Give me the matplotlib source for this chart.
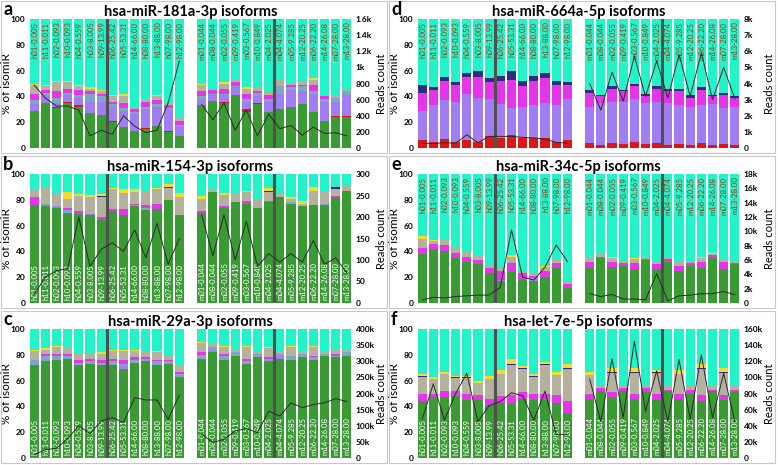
import numpy as np
import matplotlib
matplotlib.use('Agg')
from matplotlib import pyplot as plt
from matplotlib.patches import Rectangle

plt.rcParams['font.family'] = ['Lato', 'DejaVu Sans']

HUMAN = ['h01-0.005', 'h11-0.011', 'h02-0.093', 'h10-0.093', 'h04-0.559', 'h03-8.005', 'h09-13.99',
         'h06-25.42', 'h05-53.31', 'h14-66.00', 'h08-80.00', 'h13-88.00', 'h07-98.00', 'h12-98.00']
MOUSE = ['m01-0.044', 'm08-0.044', 'm02-0.055', 'm09-0.419', 'm03-0.567', 'm10-0.849', 'm04-2.025',
         'm04-4.074', 'm05-9.285', 'm12-20.25', 'm06-22.20', 'm14-26.08', 'm07-28.00', 'm13-28.00']
SAMPLES = HUMAN + MOUSE

# stacked segments, bottom to top; the rest up to 100 is the cyan part
SEG_COLORS = {'green': '#3a9a33', 'red': '#e01414', 'lav': '#a07ef2', 'sky': '#7fa6c6',
              'mag': '#e535e8', 'gray': '#b4b19f', 'navy': '#2c2c82', 'yel': '#f3dc2c'}
CYAN = '#22f3c8'

# a: hsa-miR-181a-3p
A_GREEN = [29, 35, 31, 35, 32, 27, 25.5, 20.5, 16, 13, 14.5, 17, 12.5, 9,
           33, 36.5, 35, 41, 28, 34, 28, 30, 32, 34, 28, 21, 24, 24]
A_RED = [0, 0, 0.5, 0.5, 1, 0.5, 0, 0.5, 0, 0, 1, 0, 0.5, 0, 0, 0, 0.5, 0, 2, 1, 0, 0, 0, 0, 0, 0, 1, 1]
A_LAV = [5, 6, 3.5, 5.5, 6, 8.5, 10.5, 11, 13, 13, 14.5, 15, 17, 8,
         5, 4.5, 5.5, 6, 6, 5, 8, 12, 13, 10, 14, 15, 11, 16]
A_SKY = [3, 2, 4, 1.5, 2, 6, 4, 2, 2, 2, 2, 2, 1, 1, 2, 1, 1, 1, 2, 3, 2, 6, 2, 4, 2, 2, 3, 3]
A_MAG = [5, 2, 5, 3.5, 4, 2, 2, 2, 4, 2, 4, 3, 2.5, 3, 4, 3, 4, 3, 4, 1, 3, 0, 2, 1, 5, 2, 0, 0]
A_GRAY = [7, 3, 7, 5.5, 3, 2, 2, 4, 5, 2, 2, 3, 1, 2, 5, 1, 4, 2.5, 4, 3, 3, 5, 1, 3, 4, 0, 2, 2]
A_YEL = [1, 1, 1, 0.5, 0.5, 1, 1, 1, 1.5, 0, 0, 1, 0, 0, 1, 0, 1, 0, 1, 0, 0, 0, 0, 0, 1, 0, 0, 0]
A_READS = [780, 620, 520, 520, 470, 150, 220, 170, 400, 270, 190, 220, 560, 1080,
           540, 350, 560, 220, 470, 150, 420, 240, 280, 160, 260, 180, 190, 150]

# d: hsa-miR-664a-5p
D_RED = [6, 5, 7, 5, 6, 5, 9, 8, 10, 8, 8, 8, 5, 6, 4, 2, 4, 3, 5, 3, 4, 2, 3, 2, 4, 2, 3, 2]
D_LAV = [23, 28, 30, 31, 36, 34, 29, 26, 21, 24, 25, 27, 28, 32,
         28, 33, 32, 33, 33, 32, 32, 33, 30, 30, 29, 32, 28, 30]
D_MAG = [14, 12, 15, 13, 13, 16, 13, 18, 22, 16, 19, 19, 16, 11, 11, 5, 10, 8, 10, 5, 10, 9, 11, 7, 12, 6, 10, 7]
D_NAVY = [6, 2, 3, 2, 3, 5, 3, 4, 7, 4, 4, 4, 3, 2, 2, 1, 2, 1, 2, 2, 2, 2, 2, 2, 2, 1, 2, 1]
D_READS = [300, 280, 320, 300, 820, 330, 720, 720, 720, 660, 620, 560, 350, 300,
           4000, 2350, 4700, 2900, 5700, 3200, 5400, 3100, 5800, 3200, 5900, 3000, 5000, 3050]

# b: hsa-miR-154-3p
B_GREEN = [76, 75, 74, 70, 69, 68, 64, 71, 68, 75, 72, 73, 80, 68,
           70, 86, 74, 78, 77, 74, 78, 82, 77, 75, 76, 76, 82, 87]
B_LAV = [0, 1, 1, 0, 0, 1, 0, 0, 0, 0, 0, 0, 0, 0] + [0] * 14
B_SKY = [0, 1, 0, 2, 0, 0, 0, 0, 0, 1, 2, 0, 0, 0, 0, 0, 0, 0, 0, 0, 0, 0, 1, 0, 0, 1, 0, 0]
B_MAG = [6, 0, 0, 2, 2, 0, 3, 1.5, 5, 1, 2, 4, 0, 0, 1, 0, 1, 0, 2, 0, 1, 0, 0, 0, 0, 0, 1, 0]
B_GRAY = [6, 13, 10, 7, 12, 13, 15, 15.5, 12, 9, 10, 11, 9, 14, 10, 2, 9, 7, 7, 7, 7, 3, 3, 2, 11, 10, 5, 4]
B_NAVY = [0, 0, 0, 0, 0, 0, 1, 0, 0, 0, 0, 0, 1, 0, 0, 0, 0, 0, 0, 0, 1, 0, 0, 0, 0, 0, 2, 0]
B_YEL = [0, 0, 0, 5, 1.5, 2, 1.5, 1.5, 3.5, 2, 0, 1, 2.5, 3, 2, 0, 1.5, 0, 1, 0, 2, 0, 1.5, 2, 3, 0, 0, 0]
B_READS = [20, 60, 75, 80, 200, 85, 125, 140, 120, 170, 105, 185, 90, 150,
           205, 110, 205, 100, 190, 85, 115, 95, 115, 95, 145, 90, 105, 70]

# e: hsa-miR-34c-5p
E_GREEN = [38, 42, 40, 35, 32, 30, 23, 17, 24, 18, 17, 20, 27, 12,
           27, 35, 28, 29, 26, 33, 26, 32, 25, 29, 27, 35, 26, 30]
E_LAV = [0, 0, 0, 0, 0, 0, 0, 1, 0, 0, 2, 0, 0, 0] + [0] * 14
E_MAG = [5, 4, 5, 4, 4, 3, 4, 7, 7, 5, 2, 5, 4, 3, 5, 1, 4, 2, 5, 1, 4, 2, 4, 2, 5, 2, 6, 1]
E_GRAY = [7, 2, 4.5, 4, 4, 4, 2, 2, 5, 2, 2, 3, 3, 1, 3, 2, 3, 1, 3, 2, 2, 0.5, 3, 1, 3, 1, 2, 1]
E_YEL = [2, 1, 0.5, 0, 0.5, 0, 0, 0, 1, 0, 0, 1, 0, 0, 0, 0, 1, 0, 1, 0, 0, 0, 0, 0, 0.5, 1, 0, 0]
E_READS = [400, 800, 700, 900, 1000, 1100, 1100, 2200, 10200, 3600, 3200, 5000, 8100, 5800,
           1300, 900, 1200, 550, 550, 450, 4100, 300, 1000, 1100, 1300, 1300, 1600, 1150]

# c: hsa-miR-29a-3p
C_GREEN = [72, 75, 76, 76.5, 72, 73, 72, 72, 69, 74, 75, 72, 73, 63,
           77, 82, 76, 79, 73, 78, 75, 77, 76, 78, 76, 79, 78, 79]
C_LAV = [0, 0, 0, 0, 0, 0, 0, 0, 2, 0, 0, 0, 0, 0, 0, 2, 0, 0, 0, 0, 0, 2, 0, 0, 0, 0, 0, 0]
C_SKY = [4, 4, 3, 2.5, 2, 2, 2, 3, 2, 2, 2, 3, 2, 2, 3, 2, 3, 3, 2, 3, 2, 2, 3, 3, 2, 2, 1, 3]
C_MAG = [0, 2, 2, 2, 2, 2, 2, 2, 3, 2, 1, 1, 1, 2, 2, 0, 2, 0, 2, 0, 1, 0, 0, 0, 1, 0, 2, 0]
C_GRAY = [7, 3, 5, 5, 5, 4, 5, 6, 7, 5, 4, 6, 4, 4, 7, 2, 5, 2, 9, 2, 7, 2, 7, 2, 7, 2, 3, 2]
C_YEL = [0.5, 1, 1, 0, 0, 0, 1, 1, 1, 1, 0, 1, 0, 0, 1, 0, 1, 0, 1, 0, 1, 0, 1, 0, 1, 0, 0, 0]
C_READS = [10000, 26000, 30000, 60000, 100000, 75000, 115000, 125000, 110000, 187000, 180000, 180000, 120000, 195000,
           74000, 48000, 58000, 84000, 91000, 79000, 145000, 130000, 171000, 156000, 166000, 171000, 184000, 175000]

# f: hsa-let-7e-5p
F_GREEN = [44, 47, 47, 48, 45, 45, 41, 43, 42, 46, 45, 45, 43, 35,
           46, 52, 47, 52, 46, 51, 45, 52, 46, 50, 44, 52, 45, 51]
F_MAG = [6, 3, 5, 4, 5, 4, 5, 5, 7, 5, 5, 5, 6, 9, 4, 2, 4, 2, 4, 3, 5, 1, 4, 3, 5, 1, 4, 2]
F_GRAY = [13, 11, 13, 10, 12, 9, 15, 17, 23, 18, 13, 22, 15, 25, 14, 2, 15, 2, 16, 1.5, 16, 3, 15, 3, 20, 3, 17, 3]
F_NAVY = [0.5] * 14 + [0.5, 0, 0.5, 0, 0.5, 0, 0.5, 0, 0.5, 0, 0.5, 0, 0.5, 0]
F_YEL = [1.5, 1, 1, 1, 1, 1.5, 2, 3, 4, 2, 2, 2, 2, 3, 2, 0, 3, 0, 3, 0, 2, 0, 3, 0, 3, 0, 3, 0]
F_READS = [48000, 92000, 47000, 80000, 105000, 45000, 65000, 70000, 81000, 77000, 47000, 83000, 29000, 29000,
           98000, 45000, 123000, 50000, 145000, 58000, 108000, 45000, 122000, 48000, 128000, 50000, 105000, 45000]

PANELS = [
    # letter, title, col, row, segments, reads, reads max, reads step, labels on top
    ('a', 'hsa-miR-181a-3p isoforms', 0, 0,
     dict(green=A_GREEN, red=A_RED, lav=A_LAV, sky=A_SKY, mag=A_MAG, gray=A_GRAY, yel=A_YEL),
     A_READS, 1600, 200, True),
    ('b', 'hsa-miR-154-3p isoforms', 0, 1,
     dict(green=B_GREEN, lav=B_LAV, sky=B_SKY, mag=B_MAG, gray=B_GRAY, navy=B_NAVY, yel=B_YEL),
     B_READS, 300, 50, False),
    ('c', 'hsa-miR-29a-3p isoforms', 0, 2,
     dict(green=C_GREEN, lav=C_LAV, sky=C_SKY, mag=C_MAG, gray=C_GRAY, yel=C_YEL),
     C_READS, 400000, 50000, False),
    ('d', 'hsa-miR-664a-5p isoforms', 1, 0,
     dict(red=D_RED, lav=D_LAV, mag=D_MAG, navy=D_NAVY),
     D_READS, 8000, 1000, True),
    ('e', 'hsa-miR-34c-5p isoforms', 1, 1,
     dict(green=E_GREEN, lav=E_LAV, mag=E_MAG, gray=E_GRAY, yel=E_YEL),
     E_READS, 18000, 2000, True),
    ('f', 'hsa-let-7e-5p isoforms', 1, 2,
     dict(green=F_GREEN, mag=F_MAG, gray=F_GRAY, navy=F_NAVY, yel=F_YEL),
     F_READS, 160000, 20000, False),
]

W, H = 778, 465
AX_W, AX_H = 325, 129


def fmt_reads(v):
    if v >= 1000:
        return '{:g}k'.format(v / 1000)
    return '{:g}'.format(v)


def draw_panel(fig, letter, title, col, row, segs, reads, rmax, rstep, top_labels):
    x0, y0 = col * 388, row * 155
    fig.add_artist(Rectangle((x0 / W + 0.001, 1 - (y0 + 153) / H), 386 / W, 152 / H,
                             transform=fig.transFigure, fill=False, ec='#c8c8c8', lw=0.8))
    fig.text((x0 + 3) / W, 1 - (y0 + 1) / H, letter, fontsize=13, fontweight='bold', va='top')

    ax = fig.add_axes([(x0 + 28) / W, 1 - (y0 + 148) / H, AX_W / W, AX_H / H])
    x = np.r_[0:14, 15:29]
    bottom = np.zeros(28)
    for name in ['green', 'red', 'lav', 'sky', 'mag', 'gray', 'navy', 'yel']:
        if name in segs:
            vals = np.array(segs[name], dtype=float)
            ax.bar(x, vals, 0.82, bottom=bottom, color=SEG_COLORS[name], lw=0)
            bottom += vals
    ax.bar(x, 100 - bottom, 0.82, bottom=bottom, color=CYAN, lw=0)

    for xi, lab in zip(x, SAMPLES):
        if top_labels:
            ax.text(xi + 0.05, 98, lab, rotation=90, ha='center', va='top', fontsize=5.6, color='#9a3a10')
        else:
            ax.text(xi + 0.05, 2, lab, rotation=90, ha='center', va='bottom', fontsize=5.6, color='white')

    for xv in (6.5, 21.5):
        ax.axvline(xv, color='#505050', lw=2.2, zorder=4)

    ax.set_xlim(-0.55, 28.55)
    ax.set_ylim(0, 100)
    ax.set_xticks([])
    ax.set_yticks(range(0, 101, 20))
    ax.tick_params(axis='y', length=0, pad=2, labelsize=6)
    for t in ax.get_yticklabels():
        t.set_fontweight('bold')
    ax.set_ylabel('% of isomiR', fontsize=8.5)
    ax.yaxis.set_label_coords(-16 / AX_W, 0.5)
    ax.set_title(title, fontsize=10.5, fontweight='bold', pad=2)

    ax2 = ax.twinx()
    ax2.plot(x[:14], reads[:14], color='#2a2a2a', lw=0.7)
    ax2.plot(x[14:], reads[14:], color='#2a2a2a', lw=0.7)
    ax2.set_ylim(0, rmax)
    ticks = np.arange(0, rmax + 1, rstep)
    ax2.set_yticks(ticks)
    ax2.set_yticklabels([fmt_reads(t) for t in ticks], fontweight='bold')
    ax2.tick_params(axis='y', length=0, pad=2, labelsize=6)
    ax2.set_ylabel('Reads count', fontsize=8)
    ax2.yaxis.set_label_coords(1 + 23 / AX_W, 0.5)

    for a in (ax, ax2):
        for s in a.spines.values():
            s.set_visible(False)


fig = plt.figure(figsize=(W / 100, H / 100), dpi=100)
for p in PANELS:
    draw_panel(fig, *p)
fig.savefig('out.png', dpi=100)
